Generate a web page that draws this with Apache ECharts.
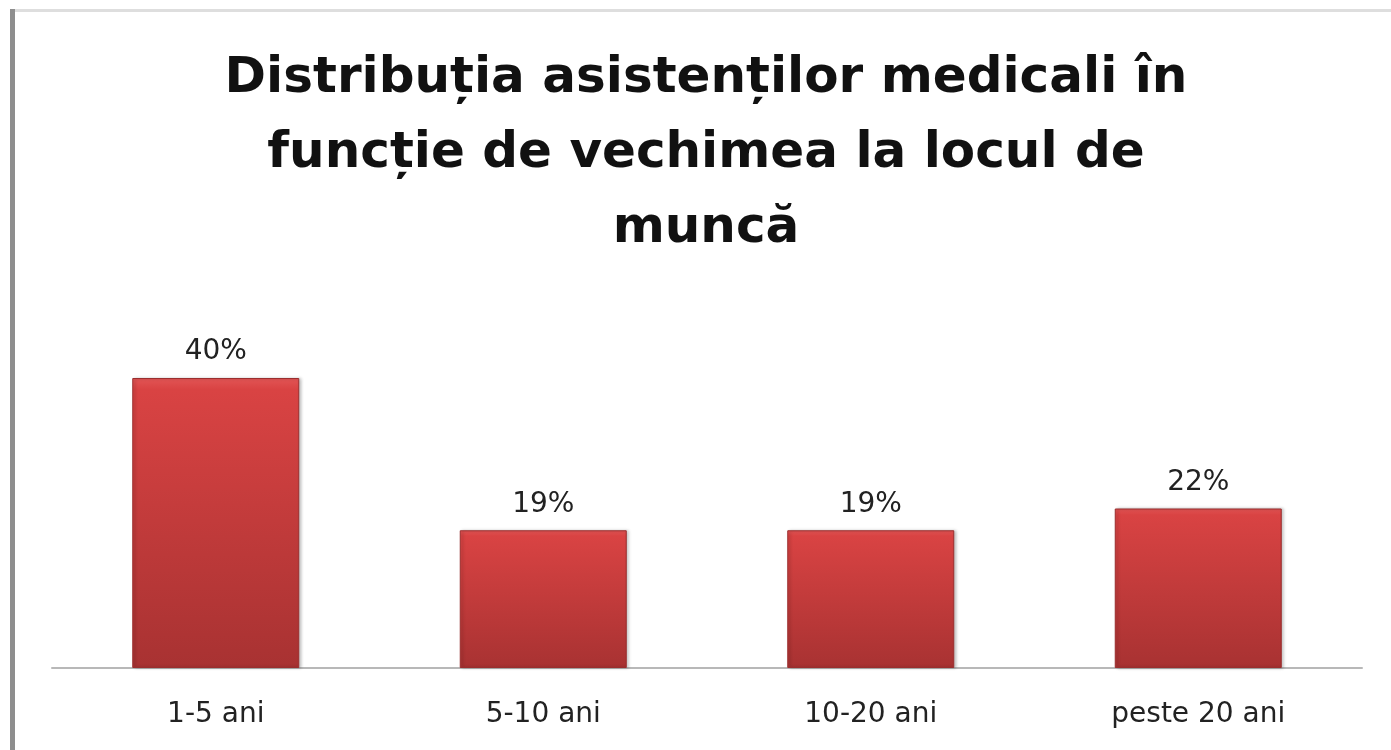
<!DOCTYPE html>
<html>
<head>
<meta charset="utf-8">
<script src="https://cdn.jsdelivr.net/npm/echarts@6/dist/echarts.min.js"></script>
<style>
html, body { margin: 0; padding: 0; background: #fff; }
#chart { width: 1391px; height: 750px; }
</style>
</head>
<body>
<div id="chart"></div>
<script>
var categories = ['1-5 ani', '5-10 ani', '10-20 ani', 'peste 20 ani'];
var values = [40, 19, 19, 22];
var titleText = 'Distribuția asistenților medicali în\nfuncție de vechimea la locul de\nmuncă';

var chart = echarts.init(document.getElementById('chart'));

option = {
    backgroundColor: '#ffffff',
    title: {
        text: titleText,
        left: 706,
        top: 42,
        padding: 0,
        textAlign: 'center',
        textStyle: {
            fontFamily: 'DejaVu Sans',
            fontWeight: 'bold',
            fontSize: 50,
            lineHeight: 75,
            color: '#111111'
        }
    },
    graphic: [
        {type: 'rect', shape: {x: 10, y: 9, width: 1381, height: 3}, style: {fill: '#dedede'}},
        {type: 'rect', shape: {x: 10, y: 9, width: 5, height: 741}, style: {fill: '#8e8e8e'}}
    ],
    grid: {
        left: 52,
        right: 29,
        top: 305.5,
        bottom: 82
    },
    xAxis: {
        type: 'category',
        data: categories,
        axisLine: {lineStyle: {color: '#b8b8b8', width: 2}},
        axisTick: {show: false},
        axisLabel: {
            margin: 33,
            fontFamily: 'DejaVu Sans',
            fontSize: 28,
            color: '#222222'
        }
    },
    yAxis: {
        type: 'value',
        min: 0,
        max: 50,
        show: false,
        splitLine: {show: false}
    },
    series: [
        {
            type: 'bar',
            data: values,
            barWidth: 167,
            itemStyle: {
                color: new echarts.graphic.LinearGradient(0, 0, 0, 1, [
                    {offset: 0, color: '#e25555'},
                    {offset: 0.04, color: '#d94343'},
                    {offset: 1, color: '#a83232'}
                ]),
                borderColor: '#9b2e2e',
                borderWidth: 1,
                shadowColor: 'rgba(0,0,0,0.25)',
                shadowBlur: 3,
                shadowOffsetX: 2
            },
            label: {
                show: true,
                position: 'top',
                distance: 12,
                formatter: '{c}%',
                fontFamily: 'DejaVu Sans',
                fontSize: 28,
                color: '#222222'
            }
        }
    ]
};
chart.setOption(option);
</script>
</body>
</html>
